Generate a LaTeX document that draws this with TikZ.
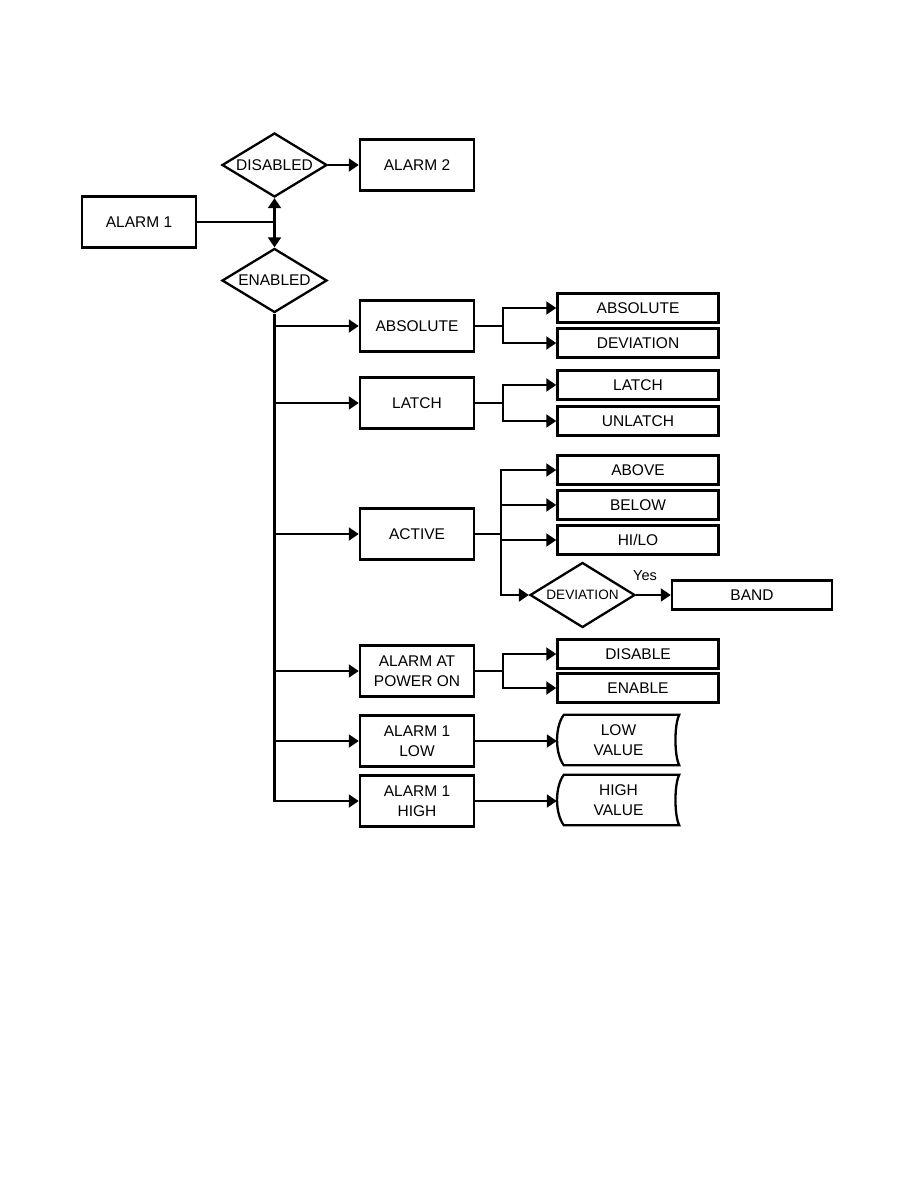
\documentclass[tikz,border=0pt]{standalone}
\usepackage{fontspec}
\setmainfont{Liberation Sans}
\usetikzlibrary{shapes.geometric,arrows.meta}
\begin{document}
\begin{tikzpicture}[x=1pt,y=-1pt,
  box/.style={draw,line width=2.5pt,minimum width=114pt,minimum height=51pt,inner sep=0pt,font=\fontsize{15.5}{20}\selectfont,align=center},
  opt/.style={draw,line width=2.5pt,minimum width=161pt,minimum height=29pt,inner sep=0pt,font=\fontsize{15.5}{20}\selectfont},
  dia/.style={draw,diamond,aspect=1.64,line width=2.3pt,minimum width=105pt,minimum height=64pt,inner sep=0pt,font=\fontsize{15.5}{18}\selectfont},
  stor/.style={minimum width=123pt,minimum height=50pt,inner sep=0pt,font=\fontsize{15.5}{20}\selectfont,align=center},
  conn/.style={line width=2.1pt},
  arr/.style={conn,-{Triangle[length=10pt 0,width=13pt 0]}}]
\useasboundingbox (0,0) rectangle (918,1188);

% top part
\node[box] (alarm1) at (139,222) {ALARM 1};
\node[dia] (disabled) at (274.5,165) {DISABLED};
\node[box] (alarm2) at (417,165) {ALARM 2};
\node[dia] (enabled) at (274.5,280.5) {ENABLED};

% left column
\node[box] (absL) at (417,326) {ABSOLUTE};
\node[box] (latL) at (417,403) {LATCH};
\node[box] (actL) at (417,534) {ACTIVE};
\node[box] (pwrL) at (417,671) {ALARM AT\\POWER ON};
\node[box] (lowL) at (417,741) {ALARM 1\\LOW};
\node[box] (highL) at (417,801) {ALARM 1\\HIGH};

% right column
\node[opt] (absR1) at (638,308) {ABSOLUTE};
\node[opt] (absR2) at (638,343) {DEVIATION};
\node[opt] (latR1) at (638,385) {LATCH};
\node[opt] (latR2) at (638,421) {UNLATCH};
\node[opt] (above) at (638,470) {ABOVE};
\node[opt] (below) at (638,505) {BELOW};
\node[opt] (hilo) at (638,540) {HI/LO};
\node[dia,minimum height=65pt,font=\fontsize{13.6}{16}\selectfont] (devd) at (582.5,595) {DEVIATION};
\node[opt,minimum width=160pt] (band) at (752,595) {BAND};
\node[font=\fontsize{14.5}{16}\selectfont] (yes) at (645,576) {Yes};
\node[opt] (dis) at (638,654) {DISABLE};
\node[opt] (en) at (638,688) {ENABLE};
\node[stor] (lowv) at (618.5,740) {LOW\\VALUE};
\node[stor] (highv) at (618.5,800) {HIGH\\VALUE};

\foreach \v in {lowv,highv}{
  \draw[line width=2.3pt] ([xshift=7pt]\v.north west) -- ([xshift=-1pt]\v.north east)
    .. controls ([xshift=-6pt,yshift=-10pt]\v.north east) and ([xshift=-6pt,yshift=10pt]\v.south east) .. ([xshift=-1pt]\v.south east)
    -- ([xshift=7pt]\v.south west)
    .. controls ([xshift=-2pt,yshift=12pt]\v.south west) and ([xshift=-2pt,yshift=-12pt]\v.north west) .. cycle;
}

% top connectors
\coordinate (j) at (alarm1.east -| disabled.south);
\draw[conn] (alarm1.east) -- (j);
\draw[arr] (j) -- (disabled.south);
\draw[arr] (j) -- (enabled.north);
\draw[arr] (disabled.east) -- (alarm2.west);

% trunk
\draw[arr] (enabled.south) |- (highL.west);
\draw[arr] (enabled.south |- absL.west) -- (absL.west);
\draw[arr] (enabled.south |- latL.west) -- (latL.west);
\draw[arr] (enabled.south |- actL.west) -- (actL.west);
\draw[arr] (enabled.south |- pwrL.west) -- (pwrL.west);
\draw[arr] (enabled.south |- lowL.west) -- (lowL.west);

% branches
\draw[arr] (absL.east) -- ++(28,0) |- (absR1.west);
\draw[arr] (absL.east) -- ++(28,0) |- (absR2.west);
\draw[arr] (latL.east) -- ++(28,0) |- (latR1.west);
\draw[arr] (latL.east) -- ++(28,0) |- (latR2.west);
\draw[arr] (actL.east) -- ++(26,0) |- (above.west);
\draw[arr] (actL.east) -- ++(26,0) |- (below.west);
\draw[arr] (actL.east) -- ++(26,0) |- (hilo.west);
\draw[arr] (actL.east) -- ++(26,0) |- (devd.west);
\draw[arr] (devd.east) -- (band.west);
\draw[arr] (pwrL.east) -- ++(28,0) |- (dis.west);
\draw[arr] (pwrL.east) -- ++(28,0) |- (en.west);
\draw[arr] (lowL.east) -- (lowL.east -| lowv.west);
\draw[arr] (highL.east) -- (highL.east -| highv.west);
\end{tikzpicture}
\end{document}
